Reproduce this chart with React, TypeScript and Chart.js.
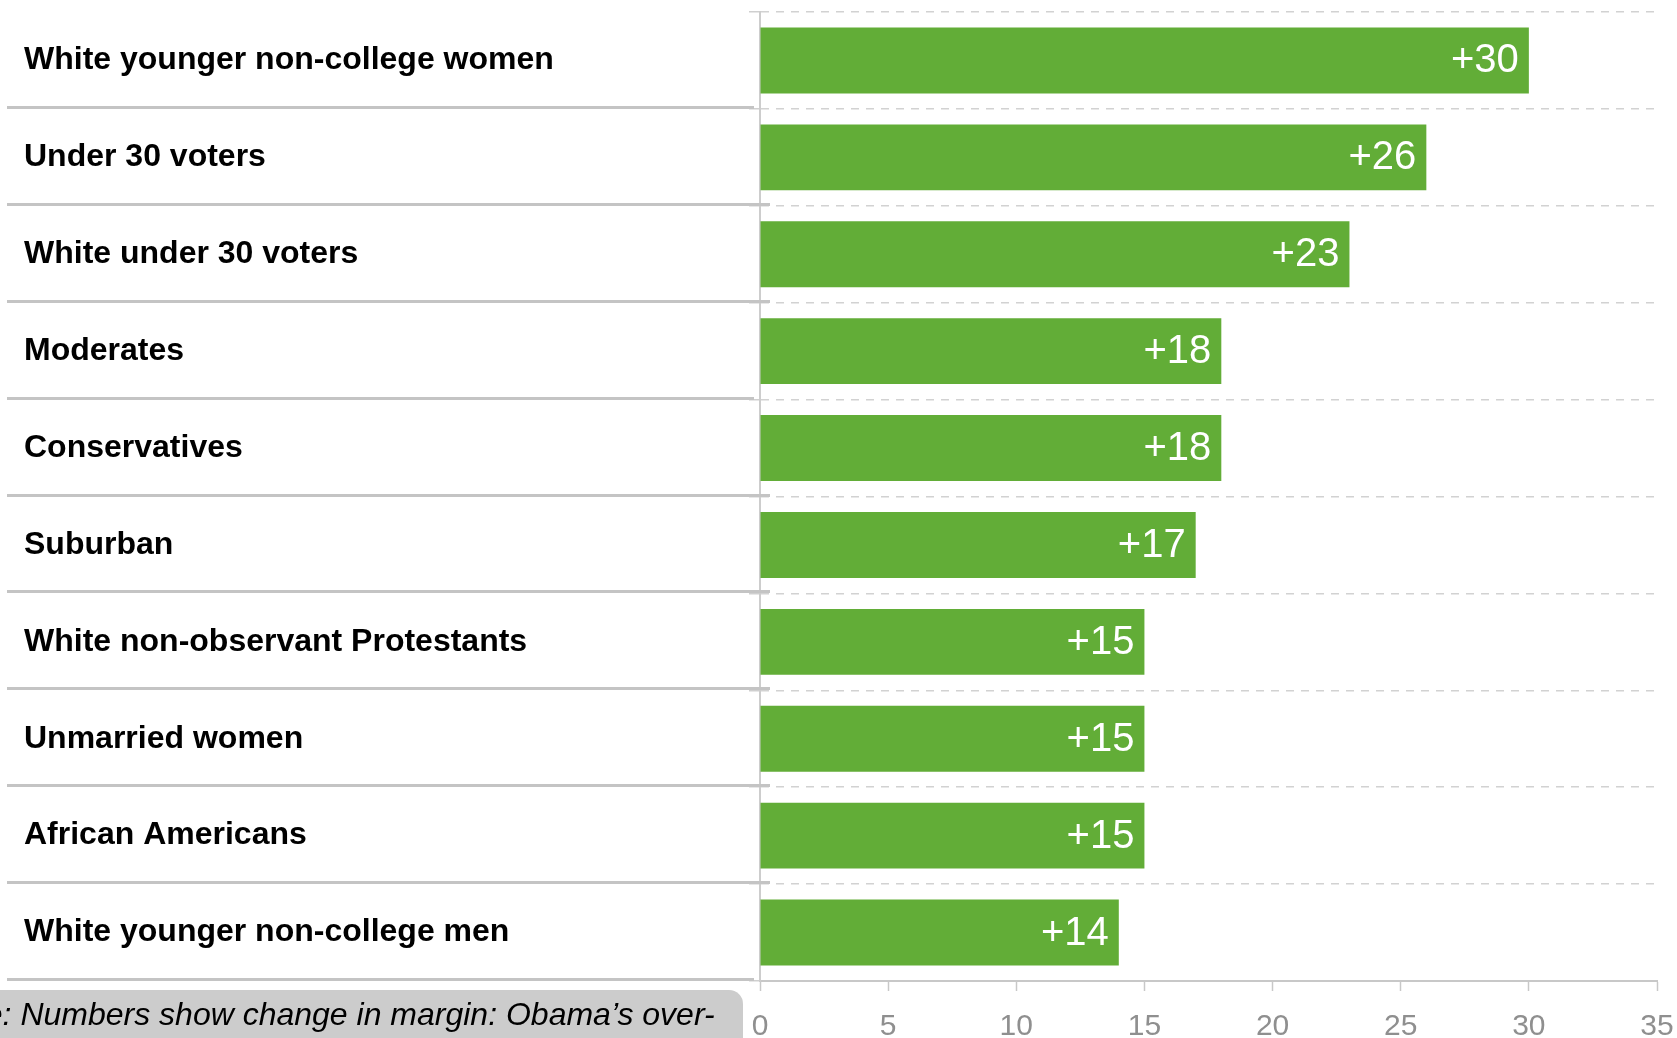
import React, { useEffect, useRef } from "react";
import { Chart, registerables } from "chart.js";

Chart.register(...registerables);

const categories = [
  "White younger non-college women",
  "Under 30 voters",
  "White under 30 voters",
  "Moderates",
  "Conservatives",
  "Suburban",
  "White non-observant Protestants",
  "Unmarried women",
  "African Americans",
  "White younger non-college men",
];

const marginChange = [30, 26, 23, 18, 18, 17, 15, 15, 15, 14];

const xAxisMin = 0;
const xAxisMax = 35;
const xAxisStep = 5;

const noteText = "Note: Numbers show change in margin: Obama\u2019s over-";

const FONT = "'Liberation Sans', Arial, Helvetica, sans-serif";
const W = 1677;
const H = 1038;

const separatorPlugin = {
  id: "rowSeparators",
  beforeDatasetsDraw(chart: any) {
    const y = chart.scales.y;
    const area = chart.chartArea;
    const ctx = chart.ctx;
    const n = chart.data.labels.length;
    // end offsets relative to the axis line (style only)
    const endOffsets = [-6, 10, 10, -6, 10, 10, 10, 10, 10, -6];
    ctx.save();
    ctx.strokeStyle = "#c4c4c4";
    ctx.lineWidth = 3;
    for (let i = 0; i < n; i++) {
      const c = y.getPixelForValue(i);
      const b = i < n - 1 ? (c + y.getPixelForValue(i + 1)) / 2 : area.bottom;
      const yy = Math.round(b - 2) + 0.5;
      ctx.beginPath();
      ctx.moveTo(7, yy);
      ctx.lineTo(area.left + endOffsets[i % endOffsets.length], yy);
      ctx.stroke();
    }
    ctx.restore();
  },
};

const valueLabelPlugin = {
  id: "valueLabels",
  afterDatasetsDraw(chart: any) {
    const ctx = chart.ctx;
    const meta = chart.getDatasetMeta(0);
    const data = chart.data.datasets[0].data;
    ctx.save();
    ctx.fillStyle = "#ffffff";
    ctx.font = `40px ${FONT}`;
    ctx.textAlign = "right";
    ctx.textBaseline = "middle";
    meta.data.forEach((bar: any, i: number) => {
      ctx.fillText(`+${data[i]}`, bar.x - 10, bar.y + 1);
    });
    ctx.restore();
  },
};

export default function App() {
  const canvasRef = useRef<HTMLCanvasElement | null>(null);

  useEffect(() => {
    if (!canvasRef.current) return;
    const chart = new Chart(canvasRef.current, {
      type: "bar",
      data: {
        labels: categories,
        datasets: [
          {
            data: marginChange,
            backgroundColor: "#62ad37",
            borderWidth: 0,
            barPercentage: 0.68,
            categoryPercentage: 1,
          },
        ],
      },
      options: {
        indexAxis: "y",
        responsive: false,
        animation: false,
        devicePixelRatio: 1,
        layout: { padding: { left: 24, top: 12, right: 20, bottom: 0 } },
        plugins: {
          legend: { display: false },
          tooltip: { enabled: false },
          title: { display: false },
        },
        scales: {
          x: {
            type: "linear",
            position: "bottom",
            min: xAxisMin,
            max: xAxisMax,
            ticks: {
              stepSize: xAxisStep,
              color: "#8f8f8f",
              font: { family: FONT, size: 30 },
              padding: 18,
              maxRotation: 0,
            },
            grid: {
              drawOnChartArea: false,
              drawTicks: true,
              tickLength: 10,
              tickColor: "#c8c8c8",
              tickWidth: 1.5,
              color: "#c8c8c8",
            },
            border: { display: true, color: "#c8c8c8", width: 2 },
            afterFit: (scale: any) => {
              scale.height = 57;
              scale.paddingLeft = 0;
              scale.paddingRight = 0;
            },
          },
          y: {
            type: "category",
            position: "left",
            z: 1,
            ticks: {
              color: "#000000",
              font: { family: FONT, size: 32, weight: "bold", lineHeight: 0.6 },
              crossAlign: "far",
              padding: 0,
            },
            grid: {
              display: true,
              offset: true,
              drawOnChartArea: true,
              drawTicks: true,
              tickLength: 11,
              color: "#d2d2d2",
              lineWidth: 1.5,
              tickColor: "#cfcfcf",
              tickWidth: 1.5,
            },
            border: { display: true, color: "#cdcdcd", width: 2, dash: [8, 7] },
            afterFit: (scale: any) => {
              scale.width = 736;
              scale.paddingTop = 0;
              scale.paddingBottom = 0;
            },
          },
        },
      },
      plugins: [separatorPlugin, valueLabelPlugin],
    } as any);
    return () => chart.destroy();
  }, []);

  return (
    <div
      style={{
        position: "absolute",
        left: 0,
        top: 0,
        width: W,
        height: H,
        overflow: "hidden",
        background: "#ffffff",
      }}
    >
      <canvas
        ref={canvasRef}
        width={W}
        height={H}
        style={{ display: "block", width: W, height: H }}
      />
      <div
        style={{
          position: "absolute",
          left: 0,
          top: 990,
          width: 743,
          height: 48,
          background: "#cccccc",
          borderTopRightRadius: 14,
          overflow: "hidden",
        }}
      >
        <div
          style={{
            position: "absolute",
            left: -65,
            top: 0,
            whiteSpace: "nowrap",
            fontFamily: FONT,
            fontStyle: "italic",
            fontSize: 32,
            lineHeight: "48px",
            color: "#000000",
          }}
        >
          {noteText}
        </div>
      </div>
    </div>
  );
}
